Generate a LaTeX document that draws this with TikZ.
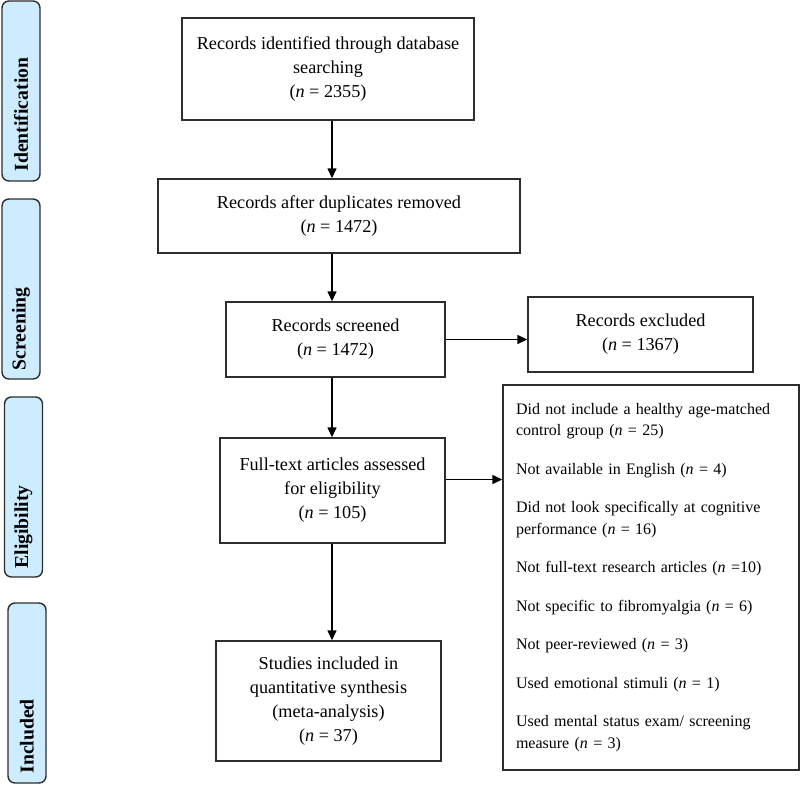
\documentclass[tikz,border=0pt]{standalone}
\usepackage{fontspec}
\setmainfont{Liberation Serif}
\usetikzlibrary{arrows.meta}
\definecolor{stagefill}{RGB}{206,236,255}
\definecolor{boxline}{RGB}{45,45,45}

\begin{document}
\begin{tikzpicture}[x=1pt,y=-1pt,
    box/.style={draw=boxline, line width=1.4pt, align=center, inner sep=0pt, font=\fontsize{18.2}{24}\selectfont},
    stage/.style={draw=boxline, line width=1.4pt, fill=stagefill, rounded corners=7pt, minimum width=38pt, minimum height=180pt, inner sep=0pt},
    stagetext/.style={rotate=90, anchor=west, inner sep=0pt, font=\fontsize{19.7}{24}\selectfont\bfseries},
    arr/.style={-{Triangle[length=10pt,width=9pt]}, line width=1.4pt, black}]

        \useasboundingbox (0,0) rectangle (800,784);

        % stages
        \node[stage] (ident) at (21,91) {};
        \node[stage] (screen) at (21,289) {};
        \node[stage] (elig) at (23.5,487) {};
        \node[stage] (incl) at (27,693) {};

        \node[stagetext] (identtxt) at ([yshift=10pt]ident.south) {Identification};
        \node[stagetext] (screentxt) at ([yshift=9pt]screen.south) {Screening};
        \node[stagetext] (eligtxt) at ([yshift=9pt]elig.south) {Eligibility};
        \node[stagetext] (incltxt) at ([yshift=10pt]incl.south) {Included};

        % main column
        \node[box, minimum width=292pt, minimum height=102pt] (found) at (328,69) {Records identified through database\\searching\\(\textit{n} = 2355)};
        \node[box, minimum width=362pt, minimum height=74pt] (dedup) at (339,216) {Records after duplicates removed\\(\textit{n} = 1472)};
        \node[box, minimum width=219pt, minimum height=75pt] (screened) at (335.5,339.5) {Records screened\\(\textit{n} = 1472)};
        \node[box, minimum width=225pt, minimum height=105pt] (fulltext) at (332.5,490.5) {Full-text articles assessed\\for eligibility\\(\textit{n} = 105)};
        \node[box, minimum width=225pt, minimum height=120pt] (included) at (328.5,701) {Studies included in\\quantitative synthesis\\(meta-analysis)\\(\textit{n} = 37)};

        % side boxes
        \node[box, minimum width=225pt, minimum height=75pt] (excluded) at (640.5,334.5) {Records excluded\\(\textit{n} = 1367)};
        \node[box, minimum width=296pt, minimum height=385pt, text width=270pt, align=left, font=\fontsize{16}{21.5}\selectfont] (reasons) at (651,577.5) {Did not include a healthy age-matched\\control group (\textit{n} = 25)\\[17pt]Not available in English (\textit{n} = 4)\\[17pt]Did not look specifically at cognitive\\performance (\textit{n} = 16)\\[17pt]Not full-text research articles (\textit{n} =10)\\[17pt]Not specific to fibromyalgia (\textit{n} = 6)\\[17pt]Not peer-reviewed (\textit{n} = 3)\\[17pt]Used emotional stimuli (\textit{n} = 1)\\[17pt]Used mental status exam/ screening\\measure (\textit{n} = 3)};

        % arrows down
        \coordinate (spine) at (332,0);
        \draw[arr] (found.south -| spine) -- (dedup.north -| spine);
        \draw[arr] (dedup.south -| spine) -- (screened.north -| spine);
        \draw[arr] (screened.south -| spine) -- (fulltext.north -| spine);
        \draw[arr] (fulltext.south -| spine) -- (included.north -| spine);

        % arrows right
        \coordinate (fullout) at ([yshift=11pt]fulltext.east);
        \draw[arr] (screened.east) -- (screened.east -| excluded.west);
        \draw[arr] (fullout) -- (fullout -| reasons.west);
    \end{tikzpicture}
\end{document}
